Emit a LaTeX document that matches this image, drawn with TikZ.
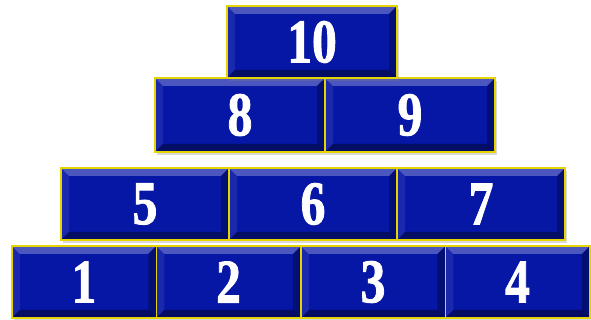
\documentclass[tikz,border=0pt]{standalone}
\usepackage{fontspec}
\usepackage{graphicx}
\setmainfont{Liberation Serif}
\newfontfamily\brickfont[FakeBold=1.6]{Liberation Serif}
\usepackage{tikz}
\usetikzlibrary{shadows}
\definecolor{brickblue}{RGB}{6,22,165}
\definecolor{brickedge}{RGB}{228,212,0}
\newcommand{\digit}[1]{\raisebox{-4pt}{\scalebox{0.8}[1]{\bfseries #1}}}

\begin{document}
\begin{tikzpicture}[x=1pt, y=1pt,
  brick/.style={draw=brickedge, line width=1.5pt, fill=brickblue, inner sep=0pt,
    minimum height=72pt, text=white, font=\brickfont\fontsize{62}{62}\selectfont,
    drop shadow={opacity=0.3, shadow xshift=2pt, shadow yshift=-3pt},
    path picture={
      \fill[white, opacity=0.28] (path picture bounding box.north west) -- (path picture bounding box.north east)
        -- ([shift={(-8pt,-8pt)}]path picture bounding box.north east) -- ([shift={(8pt,-8pt)}]path picture bounding box.north west) -- cycle;
      \fill[black, opacity=0.4] (path picture bounding box.south west) -- (path picture bounding box.south east)
        -- ([shift={(-8pt,8pt)}]path picture bounding box.south east) -- ([shift={(8pt,8pt)}]path picture bounding box.south west) -- cycle;
      \fill[white, opacity=0.08] (path picture bounding box.north west) -- ([shift={(8pt,-8pt)}]path picture bounding box.north west)
        -- ([shift={(8pt,8pt)}]path picture bounding box.south west) -- (path picture bounding box.south west) -- cycle;
      \fill[black, opacity=0.3] (path picture bounding box.north east) -- ([shift={(-8pt,-8pt)}]path picture bounding box.north east)
        -- ([shift={(-8pt,8pt)}]path picture bounding box.south east) -- (path picture bounding box.south east) -- cycle;
    }},
  wide/.style={brick, minimum width=170pt},
  mid/.style={brick, minimum width=168pt},
  small/.style={brick, minimum width=144.5pt}
]
\useasboundingbox (0,0) rectangle (591,320);

% bottom row
\node[small] (n1) at (84,38) {\digit{1}};
\node[small] (n2) at (228.5,38) {\digit{2}};
\node[small] (n3) at (373,38) {\digit{3}};
\node[small] (n4) at (517.5,38) {\digit{4}};

% third row
\node[mid] (n5) at (145,116) {\digit{5}};
\node[mid] (n6) at (313,116) {\digit{6}};
\node[mid] (n7) at (481,116) {\digit{7}};

% second row
\node[wide, minimum height=74pt] (n8) at (240,205) {\digit{8}};
\node[wide, minimum height=74pt] (n9) at (410,205) {\digit{9}};

% top
\node[wide] (n10) at (312,278) {\digit{10}};

\end{tikzpicture}
\end{document}
